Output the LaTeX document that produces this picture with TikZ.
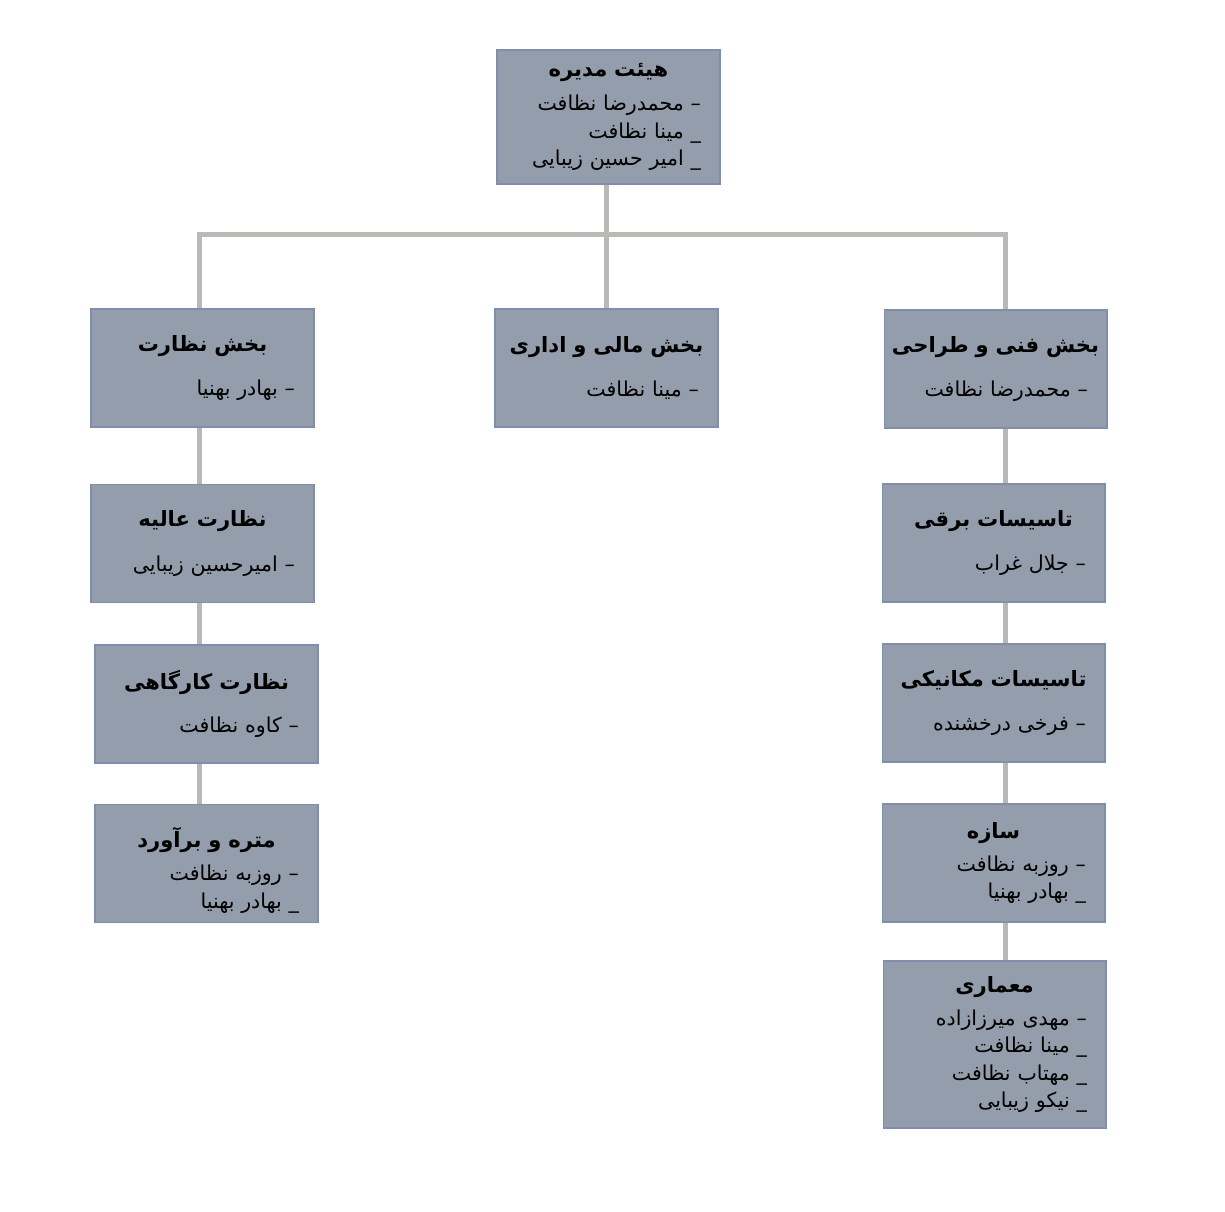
\documentclass[tikz,border=0pt]{standalone}
\usepackage{fontspec}
\newfontfamily\persianfont[Script=Arabic]{DejaVu Sans}
\TeXXeTstate=1
\usepackage{tikz}
\usetikzlibrary{shapes,arrows}

\definecolor{boxfill}{HTML}{939DAB}
\definecolor{boxedge}{HTML}{B5BDCA}
\definecolor{boxline}{HTML}{7F8FAB}
\definecolor{linkgray}{HTML}{BBB9B6}
\pgfdeclareradialshading{unitglow}{\pgfpoint{0bp}{0bp}}{%
  color(0bp)=(boxfill); color(37bp)=(boxfill);
  color(50bp)=(boxedge); color(100bp)=(boxedge)}
\newcommand{\fa}[1]{\beginR #1\endR}
\newcommand{\unittitle}[2][0pt]{\makebox[\hsize]{\rule{0pt}{#1}\bfseries\fontsize{12}{15}\selectfont\fa{#2}}}

\begin{document}
\begin{tikzpicture}[
    x=0.02cm, y=-0.02cm,
    unit/.style={
        shading=unitglow, draw=boxline, line width=0.6pt,
        minimum width=4.46cm, minimum height=2.36cm,
        text width=3.7cm, inner xsep=0.38cm, inner ysep=0pt,
        align=right,
        font=\persianfont\fontsize{11.7}{15.6}\selectfont
    },
    link/.style={draw=linkgray, line width=0.1cm}
]
\useasboundingbox (0,0) rectangle (1225,1212);
% board
\node[unit, minimum height=2.68cm] (board) at (608.5,117)
  {\unittitle{هیئت مدیره}\\[4pt]
   \fa{– محمدرضا نظافت}\\ \fa{\_ مینا نظافت}\\ \fa{\_ امیر حسین زیبایی}};
% supervision column
\node[unit] (supv) at (202.5,368)
  {\unittitle{بخش نظارت}\\[10pt] \fa{– بهادر بهنیا}};
\node[unit] (high) at (202.5,543.5)
  {\unittitle{نظارت عالیه}\\[10pt] \fa{– امیرحسین زیبایی}};
\node[unit] (site) at (206.5,704)
  {\unittitle{نظارت کارگاهی}\\[9pt] \fa{– کاوه نظافت}};
\node[unit] (cost) at (206.5,863.5)
  {\unittitle[19pt]{متره و برآورد}\\[3.5pt]
   \fa{– روزبه نظافت}\\ \fa{\_ بهادر بهنیا}};
% finance
\node[unit] (fin) at (606.5,368)
  {\unittitle{بخش مالی و اداری}\\[10pt] \fa{– مینا نظافت}};
% technical column
\node[unit] (tech) at (995.5,369)
  {\unittitle{بخش فنی و طراحی}\\[10pt] \fa{– محمدرضا نظافت}};
\node[unit] (elec) at (993.5,543)
  {\unittitle{تاسیسات برقی}\\[10pt] \fa{– جلال غراب}};
\node[unit] (mech) at (993.5,703)
  {\unittitle{تاسیسات مکانیکی}\\[10pt] \fa{– فرخی درخشنده}};
\node[unit] (struct) at (993.5,863)
  {\unittitle{سازه}\\[3pt]
   \fa{– روزبه نظافت}\\ \fa{\_ بهادر بهنیا}};
\node[unit, minimum height=3.34cm] (arch) at (994.5,1044.5)
  {\unittitle{معماری}\\[3pt]
   \fa{– مهدی میرزازاده}\\ \fa{\_ مینا نظافت}\\
   \fa{\_ مهتاب نظافت}\\ \fa{\_ نیکو زیبایی}};

\coordinate (hubL) at (199,234.5);
\coordinate (hub) at (606,234.5);
\coordinate (hubR) at (1005.4,234.5);
\draw[link] (hub |- board.south) -- (hub);
\draw[link] (hubL |- supv.north) -- (hubL) -- (hubR) -- (hubR |- tech.north);
\draw[link] (hub) -- (hub |- fin.north);
\draw[link] (hubL |- supv.south) -- (hubL |- high.north);
\draw[link] (hubL |- high.south) -- (hubL |- site.north);
\draw[link] (hubL |- site.south) -- (hubL |- cost.north);
\draw[link] (hubR |- tech.south) -- (hubR |- elec.north);
\draw[link] (hubR |- elec.south) -- (hubR |- mech.north);
\draw[link] (hubR |- mech.south) -- (hubR |- struct.north);
\draw[link] (hubR |- struct.south) -- (hubR |- arch.north);
\end{tikzpicture}
\end{document}
